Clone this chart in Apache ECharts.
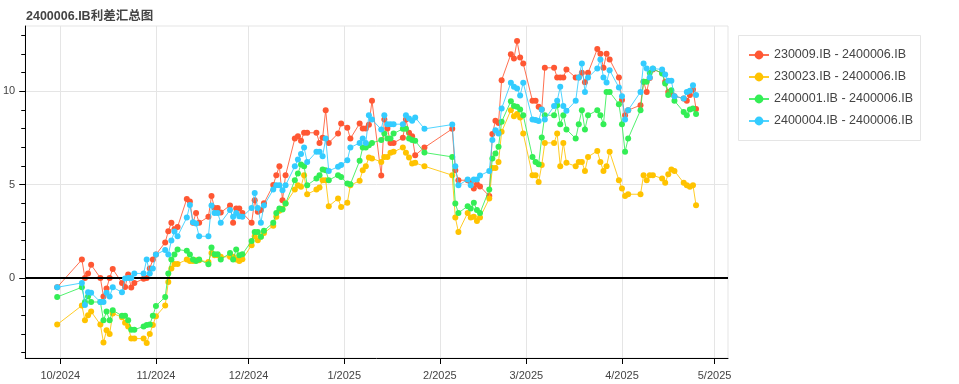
<!DOCTYPE html>
<html>
<head>
<meta charset="utf-8">
<script src="https://cdn.jsdelivr.net/npm/echarts@6/dist/echarts.min.js"></script>
<style>html,body{margin:0;padding:0;background:#fff;}#c{width:959px;height:384px;}</style>
</head>
<body>
<div id="c"></div>
<script>
const title = '2400006.IB利差汇总图';
const seriesNames = ['230009.IB - 2400006.IB','230023.IB - 2400006.IB','2400001.IB - 2400006.IB','2400004.IB - 2400006.IB'];
const colors = ['#FF5733','#FFC300','#33EE55','#33CCFF'];
const monthTicks = ['2024-10-01','2024-11-01','2024-12-01','2025-01-01','2025-02-01','2025-03-01','2025-04-01','2025-05-01'];
const yMajorTicks = [0,5,10];
const yMinorTicks = [-4,-3,-2,-1,0,1,2,3,4,5,6,7,8,9,10,11,12,13];

const dates = ['2024-09-30',
'2024-10-08','2024-10-09','2024-10-10','2024-10-11','2024-10-14','2024-10-15','2024-10-16','2024-10-17','2024-10-18','2024-10-21','2024-10-22','2024-10-23','2024-10-24','2024-10-25','2024-10-28','2024-10-29','2024-10-30','2024-10-31',
'2024-11-01','2024-11-04','2024-11-05','2024-11-06','2024-11-07','2024-11-08','2024-11-11','2024-11-12','2024-11-13','2024-11-14','2024-11-15','2024-11-18','2024-11-19','2024-11-20','2024-11-21','2024-11-22','2024-11-25','2024-11-26','2024-11-27','2024-11-28','2024-11-29',
'2024-12-02','2024-12-03','2024-12-04','2024-12-05','2024-12-06','2024-12-09','2024-12-10','2024-12-11','2024-12-12','2024-12-13','2024-12-16','2024-12-17','2024-12-18','2024-12-19','2024-12-20','2024-12-23','2024-12-24','2024-12-25','2024-12-26','2024-12-27','2024-12-30','2024-12-31',
'2025-01-02','2025-01-03','2025-01-06','2025-01-07','2025-01-08','2025-01-09','2025-01-10','2025-01-13','2025-01-14','2025-01-15','2025-01-16','2025-01-17','2025-01-20','2025-01-21','2025-01-22','2025-01-23','2025-01-24','2025-01-27',
'2025-02-05','2025-02-06','2025-02-07','2025-02-10','2025-02-11','2025-02-12','2025-02-13','2025-02-14','2025-02-17','2025-02-18','2025-02-19','2025-02-20','2025-02-21','2025-02-24','2025-02-25','2025-02-26','2025-02-27','2025-02-28',
'2025-03-03','2025-03-04','2025-03-05','2025-03-06','2025-03-07','2025-03-10','2025-03-11','2025-03-12','2025-03-13','2025-03-14','2025-03-17','2025-03-18','2025-03-19','2025-03-20','2025-03-21','2025-03-24','2025-03-25','2025-03-26','2025-03-27','2025-03-28','2025-03-31',
'2025-04-01','2025-04-02','2025-04-03','2025-04-07','2025-04-08','2025-04-09','2025-04-10','2025-04-11','2025-04-14','2025-04-15','2025-04-16','2025-04-17','2025-04-18','2025-04-21','2025-04-22','2025-04-23','2025-04-24','2025-04-25'];

const red = [-0.5,
0.98,0.0,0.23,0.7,0.0,-1.0,-0.57,0.0,0.48,-0.27,-0.48,0.18,-0.51,-0.27,-0.05,0.0,0.5,0.98,
1.25,1.9,2.5,2.96,2.6,2.73,4.23,4.09,2.96,3.48,2.96,3.27,4.38,3.75,3.75,3.5,3.88,2.96,3.72,3.72,3.48,
2.96,4.16,3.54,3.63,4.0,4.97,5.5,5.98,4.16,5.5,7.46,7.59,7.34,7.77,7.77,7.77,7.23,7.5,8.98,7.23,7.73,8.27,
8.04,7.46,8.27,8.0,8.0,8.2,9.48,5.48,8.48,8.0,7.23,7.23,7.5,8.48,7.77,7.59,6.57,6.98,
7.98,5.77,5.23,5.23,5.1,4.79,5.02,4.9,4.38,7.7,8.41,8.3,10.59,11.98,11.75,12.68,11.8,11.48,
9.48,9.48,9.16,9.02,11.25,11.25,10.73,10.73,10.73,11.16,10.73,10.73,10.98,10.48,10.98,12.25,12.0,11.25,12.0,11.7,10.73,
9.52,8.71,8.98,9.25,10.5,9.96,10.71,11.16,10.98,10.5,9.96,9.88,9.73,9.61,9.48,9.79,10.09,9.04];

const yellow = [-2.5,
-1.48,-2.27,-2.0,-1.8,-2.5,-3.46,-2.8,-3.0,-1.9,-2.1,-2.4,-2.6,-3.25,-3.25,-3.25,-3.48,-3.0,-2.52,
-2.05,-1.48,-0.22,0.5,0.75,0.75,0.98,0.9,0.9,0.95,0.95,0.85,1.34,1.22,1.22,1.13,1.13,1.13,0.98,0.91,1.0,
1.75,2.23,2.02,2.2,2.4,2.79,3.27,3.6,3.7,3.98,4.73,4.96,4.88,5.5,4.48,4.73,4.84,5.23,5.23,3.84,4.25,3.8,
4.02,4.96,5.2,5.77,5.98,6.45,6.4,6.21,6.48,6.48,6.7,6.75,6.98,6.7,6.45,6.13,6.16,5.98,
5.5,3.23,2.46,3.48,3.23,3.27,3.05,3.23,4.25,5.89,5.89,6.21,7.82,8.98,8.66,8.77,8.59,7.73,
5.5,5.5,5.14,6.04,7.23,7.23,7.73,5.98,7.23,6.16,5.98,6.21,6.21,5.73,6.48,6.8,6.21,5.73,5.98,6.75,5.23,
4.79,4.38,4.48,4.48,5.5,5.23,5.5,5.5,5.32,5.09,5.55,5.8,5.73,5.09,4.96,4.88,4.96,3.89];

const green = [-1.02,
-0.5,-1.29,-1.0,-1.29,-1.29,-2.27,-1.8,-2.27,-1.73,-2.03,-2.03,-2.27,-2.77,-2.77,-2.6,-2.52,-2.5,-2.03,
-1.5,-1.02,0.23,0.98,1.25,1.52,1.45,1.25,0.98,0.9,0.98,0.73,1.63,1.27,1.27,0.98,1.34,0.98,1.52,1.22,1.27,
1.98,2.46,2.46,2.2,2.52,2.96,3.48,3.72,3.66,3.98,5.23,5.59,6.07,5.98,4.96,5.32,5.5,5.8,5.77,5.23,5.5,5.4,
5.05,5.02,6.27,6.98,6.98,7.1,7.23,7.38,7.73,7.46,7.46,7.73,7.98,7.98,7.46,7.38,7.34,6.71,
6.48,3.98,3.48,3.84,3.71,4.02,3.63,3.48,4.73,6.39,6.66,7.02,8.36,9.46,9.2,9.16,9.02,8.71,
6.48,6.21,6.09,7.52,8.71,8.71,9.25,8.23,8.71,7.95,7.46,8.23,8.98,7.95,8.71,8.98,8.71,8.23,9.96,9.96,9.3,
8.23,6.75,7.46,8.98,10.5,10.5,10.98,11.2,10.95,10.41,9.79,10.05,9.48,8.89,8.71,9.02,9.07,8.77];

const blue = [-0.5,
-0.27,-1.45,-0.77,-0.8,-1.29,-1.29,-0.8,-1.0,-0.5,-0.77,-0.03,0.0,0.0,0.24,0.24,0.98,0.24,0.5,
1.25,1.5,1.25,2.0,2.48,2.23,3.23,3.9,2.98,2.91,2.23,2.23,3.88,3.48,3.48,2.96,3.63,3.27,3.48,3.3,3.27,
3.75,4.55,3.75,2.96,3.88,4.73,4.96,4.96,4.7,4.96,5.98,6.34,6.63,6.98,6.2,6.75,6.75,6.52,7.46,5.73,5.95,6.04,
6.3,6.98,7.23,7.46,7.23,8.71,8.48,7.95,8.71,8.23,8.23,8.23,8.23,8.71,8.54,8.41,8.59,7.98,
8.21,5.98,4.96,5.27,4.96,5.27,5.27,5.48,5.73,7.38,7.91,7.73,9.07,10.45,10.23,10.14,9.77,10.45,
8.48,8.45,8.4,9.02,8.48,9.2,9.48,10.23,9.2,8.95,9.48,10.73,11.48,9.96,10.73,11.21,11.7,10.73,10.46,11.12,10.2,
9.73,8.48,8.98,9.96,11.48,11.21,10.73,11.21,11.16,10.89,10.55,10.55,9.73,9.61,9.96,10.02,10.32,9.79];

const values = [red, yellow, green, blue];

function ts(s){ const p = s.split('-').map(Number); return new Date(p[0], p[1]-1, p[2]).getTime(); }
const xs = dates.map(ts);
const x0 = Math.min(...xs), x1 = Math.max(...xs);
const xPad = (x1 - x0) * 0.05;
const allV = values.flat();
const v0 = Math.min(...allV), v1 = Math.max(...allV);
const yPad = (v1 - v0) * 0.05;

const font = 'Liberation Sans, Arial, Helvetica, sans-serif';
const chart = echarts.init(document.getElementById('c'), null, {renderer: 'canvas'});

const series = seriesNames.map((name, i) => ({
  name: name,
  type: 'line',
  data: xs.map((x, j) => [x, values[i][j]]),
  symbol: 'circle',
  symbolSize: 6,
  showSymbol: true,
  showAllSymbol: true,
  z: 2 + i,
  lineStyle: {width: 1, color: colors[i], opacity: 0.85},
  itemStyle: {color: colors[i]},
  emphasis: {disabled: true},
  animation: false
}));
series[0].markLine = {
  silent: true, symbol: 'none', animation: false,
  label: {show: false},
  lineStyle: {color: '#000', width: 2, type: 'solid'},
  data: [{yAxis: 0}]
};

chart.setOption({
  animation: false,
  backgroundColor: '#fff',
  title: {
    text: title, left: 21, top: 5,
    textStyle: {fontSize: 12.5, fontWeight: 'bold', color: '#444', fontFamily: 'Liberation Sans, Arial, Noto Sans CJK SC, sans-serif'}
  },
  graphic: [{
    type: 'rect', z: 0, silent: true,
    shape: {x: 738.5, y: 35.5, width: 182, height: 105},
    style: {fill: '#fff', stroke: '#e5e5e5', lineWidth: 1}
  }],
  legend: {
    data: seriesNames,
    orient: 'vertical',
    left: 738, top: 36,
    padding: [12, 10, 12, 10],
    itemGap: 8,
    itemWidth: 20,
    itemHeight: 11,
    borderWidth: 0,
    textStyle: {fontSize: 12.5, color: '#444', fontFamily: font, lineHeight: 14}
  },
  grid: {left: 25, right: 231, top: 26, bottom: 26, show: true, borderColor: '#e5e5e5', borderWidth: 1, backgroundColor: 'transparent', containLabel: false},
  xAxis: {
    type: 'value',
    min: x0 - xPad, max: x1 + xPad,
    axisLine: {show: true, onZero: false, lineStyle: {color: '#000', width: 1}},
    axisTick: {show: true, length: 6, customValues: monthTicks.map(ts), lineStyle: {color: '#000'}},
    axisLabel: {
      customValues: monthTicks.map(ts), margin: 12,
      color: '#444', fontSize: 11, fontFamily: font,
      formatter: function (v) { const d = new Date(v); return (d.getMonth() + 1) + '/' + d.getFullYear(); }
    },
    splitLine: {show: true, lineStyle: {color: '#e5e5e5', width: 1}}
  },
  yAxis: [{
    type: 'value',
    min: v0 - yPad, max: v1 + yPad,
    splitNumber: 4,
    position: 'left',
    axisLine: {show: true, onZero: false, lineStyle: {color: '#000', width: 1}},
    axisTick: {show: true, length: 6, customValues: yMajorTicks, lineStyle: {color: '#000'}},
    axisLabel: {customValues: yMajorTicks, margin: 10, color: '#444', fontSize: 11, fontFamily: font},
    splitLine: {show: true, lineStyle: {color: '#e5e5e5', width: 1}}
  }, {
    type: 'value',
    min: v0 - yPad, max: v1 + yPad,
    position: 'left', offset: 0,
    axisLine: {show: false, onZero: false},
    axisTick: {show: true, length: 4, customValues: yMinorTicks, lineStyle: {color: '#000'}},
    axisLabel: {show: false},
    splitLine: {show: false}
  }],
  series: series
});
</script>
</body>
</html>
